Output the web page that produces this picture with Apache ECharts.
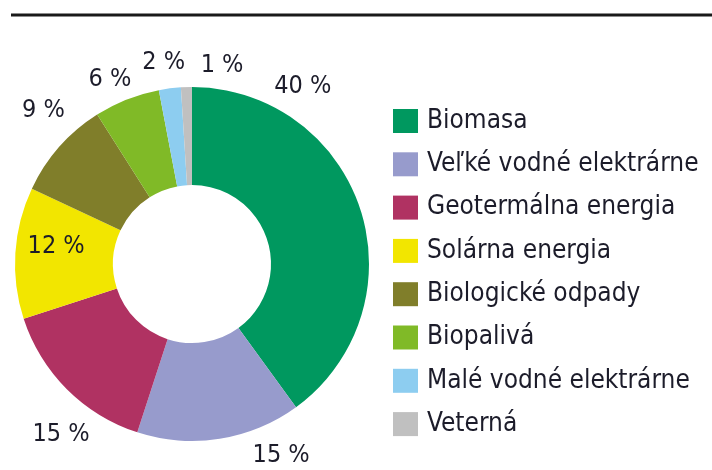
<!DOCTYPE html>
<html>
<head>
<meta charset="utf-8">
<script src="https://cdn.jsdelivr.net/npm/echarts@6/dist/echarts.min.js"></script>
<style>
  html, body { margin: 0; padding: 0; background: #fff; }
  #chart { width: 712px; height: 470px; }
</style>
</head>
<body>
<div id="chart"></div>
<script>
// Share of renewable energy sources (%)
const categories = [
  'Biomasa',
  'Veľké vodné elektrárne',
  'Geotermálna energia',
  'Solárna energia',
  'Biologické odpady',
  'Biopalivá',
  'Malé vodné elektrárne',
  'Veterná'
];
const shares = [40, 15, 15, 12, 9, 6, 2, 1];
const colors = ['#00985f', '#979bcc', '#b03262', '#f2e600', '#807e2a', '#80ba27', '#8dcdf0', '#c0c0c0'];

// Label placement around the ring: [angle clockwise from 12 o'clock in degrees, distance from centre in px]
const labelPlacement = [
  [32, 209], [155, 211], [217.5, 215], [277.5, 137],
  [316, 214], [336, 202], [352, 203], [8.6, 201]
];

const FONT = '"DejaVu Sans Condensed", "Liberation Sans Narrow", sans-serif';
const TEXT = '#1c1c2a';
const CX = 192, CY = 264;

const chart = echarts.init(document.getElementById('chart'), null, { renderer: 'canvas' });

chart.setOption({
  animation: false,
  color: colors,
  graphic: [{
    type: 'line',
    shape: { x1: 11, y1: 15, x2: 712, y2: 15 },
    style: { stroke: '#1a1a1a', lineWidth: 3 }
  }],
  legend: {
    orient: 'vertical',
    left: 393,
    top: 108,
    padding: 0,
    itemWidth: 25,
    itemHeight: 24,
    itemGap: 17.3,
    icon: 'rect',
    selectedMode: false,
    data: categories,
    textStyle: {
      fontFamily: FONT,
      fontSize: 26,
      color: TEXT,
      padding: [0, 0, 0, 4]
    }
  },
  series: [{
    type: 'pie',
    center: [CX, CY],
    radius: [79, 177],
    startAngle: 90,
    clockwise: true,
    avoidLabelOverlap: false,
    emphasis: { disabled: true },
    itemStyle: { borderWidth: 0 },
    label: {
      show: true,
      position: 'outside',
      formatter: p => p.value + ' %',
      fontFamily: FONT,
      fontSize: 25,
      color: TEXT
    },
    labelLine: { show: false },
    labelLayout: function (p) {
      const pl = labelPlacement[p.dataIndex];
      const a = pl[0] * Math.PI / 180;
      return {
        x: CX + pl[1] * Math.sin(a),
        y: CY - pl[1] * Math.cos(a),
        align: 'center',
        verticalAlign: 'middle'
      };
    },
    data: categories.map((c, i) => ({ name: c, value: shares[i] }))
  }]
});
</script>
</body>
</html>
